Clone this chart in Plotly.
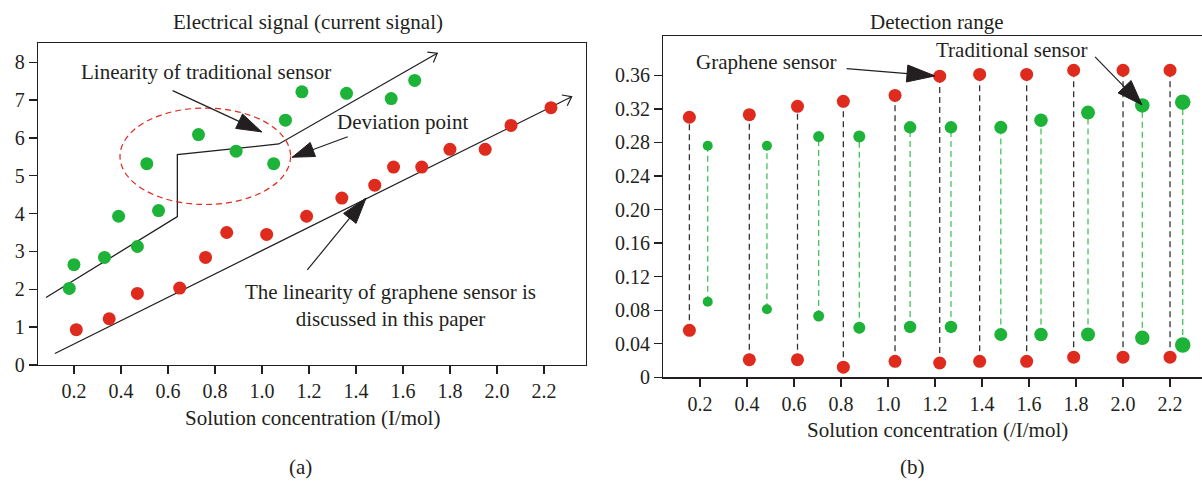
import math
import plotly.graph_objects as go

W, H = 1202, 487

# ---------------- Panel (a) data ----------------
trad_x = [0.18, 0.20, 0.33, 0.39, 0.47, 0.51, 0.56, 0.73, 0.89, 1.05, 1.10, 1.17, 1.36, 1.55, 1.65]
trad_y = [2.02, 2.65, 2.84, 3.93, 3.13, 5.32, 4.08, 6.09, 5.65, 5.32, 6.47, 7.22, 7.18, 7.04, 7.52]
graph_x = [0.21, 0.35, 0.47, 0.65, 0.76, 0.85, 1.02, 1.19, 1.34, 1.48, 1.56, 1.68, 1.80, 1.95, 2.06, 2.23]
graph_y = [0.93, 1.22, 1.89, 2.03, 2.84, 3.50, 3.45, 3.93, 4.41, 4.75, 5.23, 5.23, 5.70, 5.70, 6.33, 6.80]
trad_fit_x = [0.081, 0.640, 0.640, 1.072, 1.746]
trad_fit_y = [1.78, 3.92, 5.56, 5.84, 8.24]
graph_fit_x = [0.119, 2.318]
graph_fit_y = [0.30, 7.09]
a_xticks = [0.2, 0.4, 0.6, 0.8, 1.0, 1.2, 1.4, 1.6, 1.8, 2.0, 2.2]
a_yticks = [0, 1, 2, 3, 4, 5, 6, 7, 8]

# ---------------- Panel (b) data ----------------
gr_x = [0.155, 0.41, 0.615, 0.81, 1.03, 1.22, 1.39, 1.59, 1.79, 2.0, 2.2]
gr_high = [0.310, 0.313, 0.323, 0.329, 0.336, 0.359, 0.361, 0.361, 0.366, 0.366, 0.366]
gr_low = [0.056, 0.021, 0.021, 0.012, 0.019, 0.017, 0.019, 0.019, 0.024, 0.024, 0.024]
tr_x = [0.233, 0.485, 0.705, 0.878, 1.094, 1.268, 1.48, 1.651, 1.851, 2.082, 2.254]
tr_high = [0.276, 0.276, 0.287, 0.287, 0.298, 0.298, 0.298, 0.3065, 0.3155, 0.324, 0.328]
tr_low = [0.090, 0.081, 0.073, 0.059, 0.060, 0.060, 0.051, 0.051, 0.051, 0.047, 0.0385]
b_xticks = [0.2, 0.4, 0.6, 0.8, 1.0, 1.2, 1.4, 1.6, 1.8, 2.0, 2.2]
b_yticks = [0, 0.04, 0.08, 0.12, 0.16, 0.20, 0.24, 0.28, 0.32, 0.36]
b_yticklabels = ["0", "0.04", "0.08", "0.12", "0.16", "0.20", "0.24", "0.28", "0.32", "0.36"]

# ---------------- styles ----------------
RED = "#df2a1e"
GREEN = "#1db238"
GREEN_DASH = "#45c357"
BLACK = "#231f20"
FONT = "Liberation Serif"
tr_sizes = [10, 10, 11, 12, 12.5, 12.5, 13, 13.5, 14, 14.5, 15.5]

# panel geometry (pixels)
GEO = {
    "x": (38, 586, 0.047, 2.379),
    "y": (373.3, 44, 0, 8.51),
    "x2": (663.3, 1202, 0.044, 2.336),
    "y2": (386, 36.7, 0, 0.407),
}


def scale(ax):
    p0, p1, r0, r1 = GEO[ax]
    return abs(p1 - p0) / (r1 - r0)


fig = go.Figure()

# ----- panel (a) -----
fig.add_trace(go.Scatter(x=trad_fit_x, y=trad_fit_y, mode="lines",
                         line=dict(color=BLACK, width=1.3), xaxis="x", yaxis="y", hoverinfo="skip"))
fig.add_trace(go.Scatter(x=graph_fit_x, y=graph_fit_y, mode="lines",
                         line=dict(color=BLACK, width=1.3), xaxis="x", yaxis="y", hoverinfo="skip"))
fig.add_trace(go.Scatter(x=trad_x, y=trad_y, mode="markers",
                         marker=dict(color=GREEN, size=13, opacity=1, line=dict(width=0)), xaxis="x", yaxis="y"))
fig.add_trace(go.Scatter(x=graph_x, y=graph_y, mode="markers",
                         marker=dict(color=RED, size=13, opacity=1, line=dict(width=0)), xaxis="x", yaxis="y"))

# ----- panel (b) -----
lx, ly = [], []
for x, lo, hi in zip(gr_x, gr_low, gr_high):
    lx += [x, x, None]
    ly += [lo, hi, None]
fig.add_trace(go.Scatter(x=lx, y=ly, mode="lines", line=dict(color="#333333", width=1.3, dash="6px,4px"),
                         xaxis="x2", yaxis="y2", hoverinfo="skip"))
gx, gy = [], []
for x, lo, hi in zip(tr_x, tr_low, tr_high):
    gx += [x, x, None]
    gy += [lo, hi, None]
fig.add_trace(go.Scatter(x=gx, y=gy, mode="lines", line=dict(color=GREEN_DASH, width=1.3, dash="6px,4px"),
                         xaxis="x2", yaxis="y2", hoverinfo="skip"))
fig.add_trace(go.Scatter(x=gr_x + gr_x, y=gr_high + gr_low, mode="markers",
                         marker=dict(color=RED, size=13, opacity=1, line=dict(width=0)), xaxis="x2", yaxis="y2"))
fig.add_trace(go.Scatter(x=tr_x + tr_x, y=tr_high + tr_low, mode="markers",
                         marker=dict(color=GREEN, size=tr_sizes + tr_sizes, opacity=1, line=dict(width=0)),
                         xaxis="x2", yaxis="y2"))

shapes = []
annotations = []


def arrow(xr, yr, x0, y0, x1, y1, length, width, filled=True, shaft=True):
    kx = scale(xr)
    ky = scale(yr)
    dx = (x1 - x0) * kx
    dy = (y1 - y0) * ky
    n = math.hypot(dx, dy)
    ux, uy = dx / n, dy / n
    px, py = -uy, ux
    bx, by = -ux * length, -uy * length
    p1 = (bx + px * width / 2, by + py * width / 2)
    p2 = (bx - px * width / 2, by - py * width / 2)
    if shaft:
        shapes.append(dict(type="line", xref=xr, yref=yr, x0=x0, y0=y0, x1=x1, y1=y1,
                           line=dict(color=BLACK, width=1.2)))
    if filled:
        path = f"M0,0 L{p1[0]:.2f},{p1[1]:.2f} L{p2[0]:.2f},{p2[1]:.2f} Z"
        shapes.append(dict(type="path", xref=xr, yref=yr, xsizemode="pixel", ysizemode="pixel",
                           xanchor=x1, yanchor=y1, path=path, fillcolor=BLACK,
                           line=dict(color=BLACK, width=1)))
    else:
        path = f"M{p1[0]:.2f},{p1[1]:.2f} L0,0 L{p2[0]:.2f},{p2[1]:.2f}"
        shapes.append(dict(type="path", xref=xr, yref=yr, xsizemode="pixel", ysizemode="pixel",
                           xanchor=x1, yanchor=y1, path=path, fillcolor="rgba(0,0,0,0)",
                           line=dict(color=BLACK, width=1.2)))


# open arrowheads on linearity lines
arrow("x", "y", trad_fit_x[-2], trad_fit_y[-2], trad_fit_x[-1], trad_fit_y[-1], 8, 12, filled=False, shaft=False)
arrow("x", "y", graph_fit_x[0], graph_fit_y[0], graph_fit_x[-1], graph_fit_y[-1], 8, 12, filled=False, shaft=False)

# ellipse
shapes.append(dict(type="circle", xref="x", yref="y", x0=0.396, x1=1.122, y0=4.24, y1=6.79,
                   line=dict(color=RED, width=1.2, dash="6px,4px")))

# annotation arrows
arrow("x", "y", 0.620, 7.25, 0.999, 6.16, 25, 16)
arrow("x", "y", 1.365, 6.03, 1.129, 5.49, 22, 15)
arrow("x", "y", 1.193, 2.51, 1.443, 4.41, 26, 16)
arrow("x2", "y2", 0.824, 0.368, 1.20, 0.3593, 28, 17)
arrow("x2", "y2", 1.881, 0.382, 2.080, 0.3248, 25, 18)

TF = dict(family=FONT, size=21, color=BLACK)


def txt(text, x, y, xr, yr, **kw):
    annotations.append(dict(text=text, x=x, y=y, xref=xr, yref=yr, showarrow=False,
                            font=TF, xanchor="center", yanchor="middle", **kw))


txt("Linearity of traditional sensor", 0.762, 7.75, "x", "y")
txt("Deviation point", 1.60, 6.43, "x", "y")
txt("The linearity of graphene sensor is<br>discussed in this paper", 1.547, 1.565, "x", "y", align="center")
txt("Graphene sensor", 0.481, 0.376, "x2", "y2")
txt("Traditional sensor", 1.526, 0.3896, "x2", "y2")


def ptxt(text, px, py):
    annotations.append(dict(text=text, x=px / W, y=(H - py) / H, xref="paper", yref="paper",
                            showarrow=False, font=TF, xanchor="center", yanchor="middle"))


ptxt("Electrical signal (current signal)", 308, 22.7)
ptxt("Detection range", 937, 22)
ptxt("Solution concentration (I/mol)", 312, 428)
ptxt("Solution concentration (/I/mol)", 937, 440)
ptxt("(a)", 300, 478)
ptxt("(b)", 912, 478)


def dom_x(ax):
    p0, p1, _, _ = GEO[ax]
    return [p0 / W, min(p1 / W, 1.0)]


def dom_y(ax):
    p0, p1, _, _ = GEO[ax]
    return [(H - p0) / H, (H - p1) / H]


axis_common = dict(showline=True, linecolor=BLACK, linewidth=1.3, ticks="outside", ticklen=8,
                   tickwidth=1.3, tickcolor=BLACK, showgrid=False, zeroline=False,
                   tickfont=dict(family=FONT, size=20, color=BLACK))

fig.update_layout(
    width=W, height=H,
    margin=dict(l=0, r=0, t=0, b=0),
    paper_bgcolor="white", plot_bgcolor="white",
    showlegend=False,
    hovermode=False,
    font=dict(family=FONT, color=BLACK),
    xaxis=dict(domain=dom_x("x"), range=GEO["x"][2:], anchor="y", tickvals=a_xticks,
               tickformat=".1f", mirror=True, **axis_common),
    yaxis=dict(domain=dom_y("y"), range=GEO["y"][2:], anchor="x", tickvals=a_yticks,
               mirror=True, **axis_common),
    xaxis2=dict(domain=dom_x("x2"), range=GEO["x2"][2:], anchor="y2", tickvals=b_xticks,
                tickformat=".1f", mirror=True, **axis_common),
    yaxis2=dict(domain=dom_y("y2"), range=GEO["y2"][2:], anchor="x2", tickvals=b_yticks,
                ticktext=b_yticklabels, **axis_common),
    shapes=shapes,
    annotations=annotations,
)

fig.write_html("out.html",
               config={"displayModeBar": False, "staticPlot": True},
               post_script="document.body.style.margin='0px';document.body.style.overflow='hidden';")
